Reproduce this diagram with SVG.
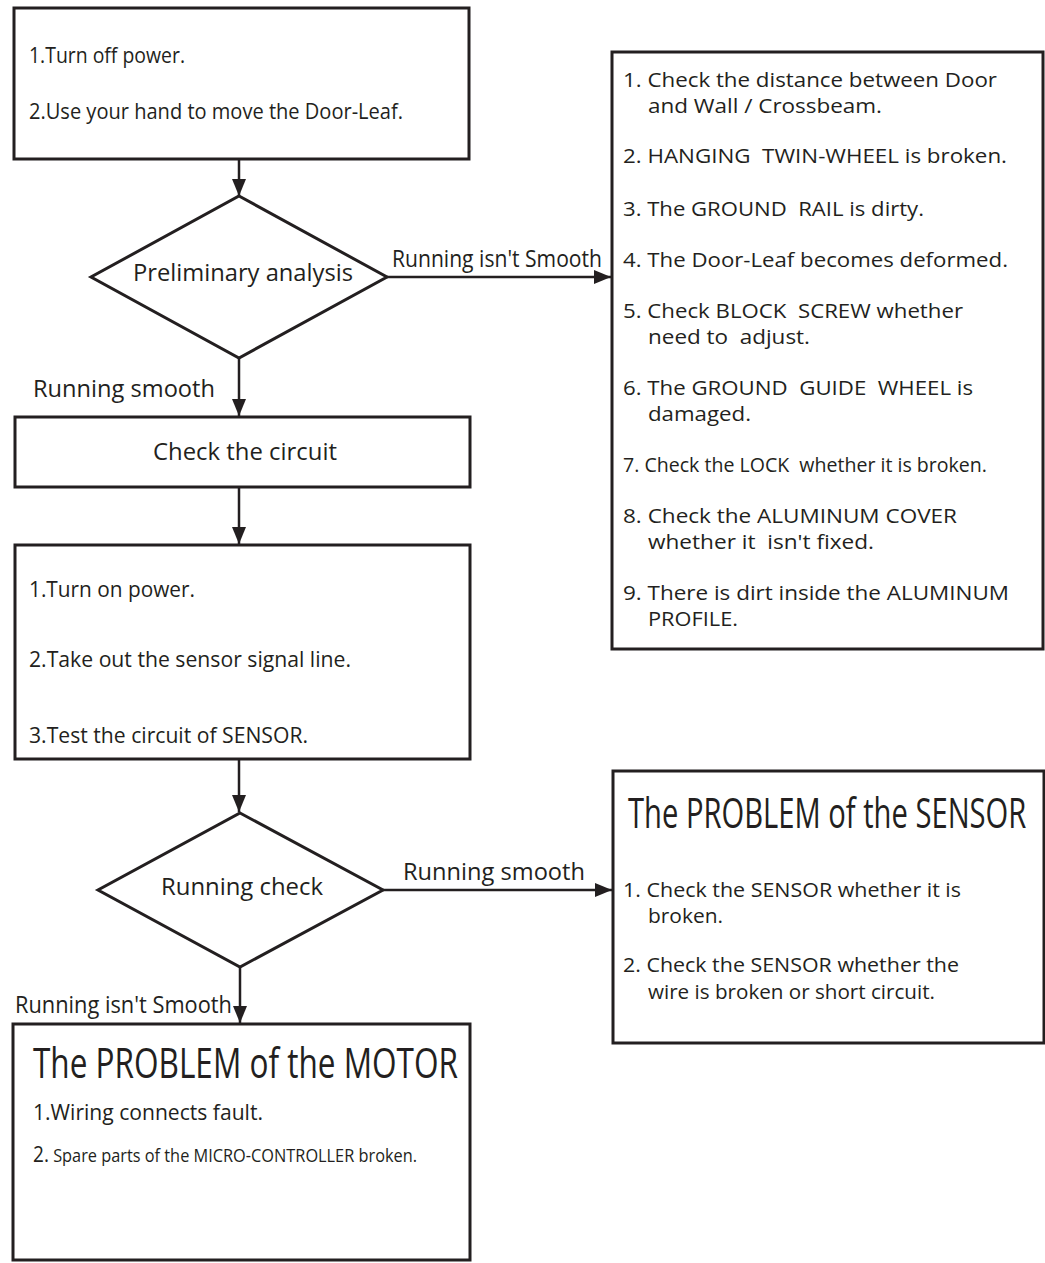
<svg xmlns="http://www.w3.org/2000/svg" width="1045" height="1263" viewBox="0 0 1045 1263">
<style>
  .box { fill: #ffffff; stroke: #231f20; stroke-width: 3; }
  .dia { fill: #ffffff; stroke: #231f20; stroke-width: 3; stroke-linejoin: miter; }
  .con { fill: none; stroke: #231f20; stroke-width: 2.5; marker-end: url(#arr); }
  text { font-family: "Open Sans", "Noto Sans", "Liberation Sans", sans-serif; fill: #231f20; white-space: pre; }
  .t18 { font-size: 21px; }
  .t20 { font-size: 20.5px; }
  .t19 { font-size: 19.5px; }
  .t22 { font-size: 24px; }
  .title { font-size: 42px; }
  .sm { font-size: 18px; }
</style>
<defs>
  <marker id="arr" markerUnits="userSpaceOnUse" markerWidth="18" markerHeight="16" refX="17" refY="7" orient="auto">
    <path d="M0,0 L17,7 L0,14 Z" fill="#231f20"/>
  </marker>
</defs>
<rect width="1045" height="1263" fill="#ffffff"/>

<g id="connectors">
  <line class="con" x1="239" y1="160" x2="239" y2="196"/>
  <line class="con" x1="387" y1="277" x2="611" y2="277"/>
  <line class="con" x1="239" y1="358" x2="239" y2="416"/>
  <line class="con" x1="239" y1="488" x2="239" y2="544"/>
  <line class="con" x1="239" y1="760" x2="239" y2="812"/>
  <line class="con" x1="383" y1="890" x2="612" y2="890"/>
  <line class="con" x1="240" y1="967" x2="240" y2="1023"/>
  <text class="t22" x="392" y="267" textLength="210" lengthAdjust="spacingAndGlyphs">Running isn't Smooth</text>
  <text class="t22" x="33" y="397" textLength="182" lengthAdjust="spacingAndGlyphs">Running smooth</text>
  <text class="t22" x="403" y="880" textLength="182" lengthAdjust="spacingAndGlyphs">Running smooth</text>
  <text class="t22" x="15" y="1013" textLength="217" lengthAdjust="spacingAndGlyphs">Running isn't Smooth</text>
</g>

<g id="step1">
  <rect class="box" x="14" y="8" width="455" height="151"/>
  <text class="t18" x="29" y="63" textLength="156" lengthAdjust="spacingAndGlyphs">1.Turn off power.</text>
  <text class="t18" x="29" y="119" textLength="374" lengthAdjust="spacingAndGlyphs">2.Use your hand to move the Door-Leaf.</text>
</g>

<g id="preliminary">
  <polygon class="dia" points="239,196 387,277 239,358 91,277"/>
  <text class="t22" x="133" y="281" textLength="220" lengthAdjust="spacingAndGlyphs">Preliminary analysis</text>
</g>

<g id="mechanical">
  <rect class="box" x="612" y="52" width="431" height="597"/>
  <text class="t20" x="623" y="87" textLength="374" lengthAdjust="spacingAndGlyphs">1. Check the distance between Door</text>
  <text class="t20" x="648" y="113" textLength="234" lengthAdjust="spacingAndGlyphs">and Wall / Crossbeam.</text>
  <text class="t20" x="623" y="163" textLength="384" lengthAdjust="spacingAndGlyphs">2. HANGING  TWIN-WHEEL is broken.</text>
  <text class="t20" x="623" y="216" textLength="301" lengthAdjust="spacingAndGlyphs">3. The GROUND  RAIL is dirty.</text>
  <text class="t20" x="623" y="267" textLength="385" lengthAdjust="spacingAndGlyphs">4. The Door-Leaf becomes deformed.</text>
  <text class="t20" x="623" y="318" textLength="340" lengthAdjust="spacingAndGlyphs">5. Check BLOCK  SCREW whether</text>
  <text class="t20" x="648" y="344" textLength="162" lengthAdjust="spacingAndGlyphs">need to  adjust.</text>
  <text class="t20" x="623" y="395" textLength="350" lengthAdjust="spacingAndGlyphs">6. The GROUND  GUIDE  WHEEL is</text>
  <text class="t20" x="648" y="421" textLength="103" lengthAdjust="spacingAndGlyphs">damaged.</text>
  <text class="t19" x="623" y="472" textLength="364" lengthAdjust="spacingAndGlyphs">7. Check the LOCK  whether it is broken.</text>
  <text class="t20" x="623" y="523" textLength="334" lengthAdjust="spacingAndGlyphs">8. Check the ALUMINUM COVER</text>
  <text class="t20" x="648" y="549" textLength="226" lengthAdjust="spacingAndGlyphs">whether it  isn't fixed.</text>
  <text class="t20" x="623" y="600" textLength="386" lengthAdjust="spacingAndGlyphs">9. There is dirt inside the ALUMINUM</text>
  <text class="t20" x="648" y="626" textLength="90" lengthAdjust="spacingAndGlyphs">PROFILE.</text>
</g>

<g id="check-circuit">
  <rect class="box" x="15" y="417" width="455" height="70"/>
  <text class="t22" x="153" y="460" textLength="184" lengthAdjust="spacingAndGlyphs">Check the circuit</text>
</g>

<g id="step2">
  <rect class="box" x="15" y="545" width="455" height="214"/>
  <text class="t18" x="29" y="597" textLength="166" lengthAdjust="spacingAndGlyphs">1.Turn on power.</text>
  <text class="t18" x="29" y="667" textLength="322" lengthAdjust="spacingAndGlyphs">2.Take out the sensor signal line.</text>
  <text class="t18" x="29" y="743" textLength="279" lengthAdjust="spacingAndGlyphs">3.Test the circuit of SENSOR.</text>
</g>

<g id="running-check">
  <polygon class="dia" points="240,813 383,890 240,967 98,890"/>
  <text class="t22" x="161" y="895" textLength="162" lengthAdjust="spacingAndGlyphs">Running check</text>
</g>

<g id="sensor-problem">
  <rect class="box" x="613" y="771" width="431" height="272"/>
  <text class="title" transform="translate(628,828) scale(0.7,1)" x="0" y="0" textLength="569" lengthAdjust="spacingAndGlyphs">The PROBLEM of the SENSOR</text>
  <text class="t20" x="623" y="897" textLength="338" lengthAdjust="spacingAndGlyphs">1. Check the SENSOR whether it is</text>
  <text class="t20" x="648" y="923" textLength="75" lengthAdjust="spacingAndGlyphs">broken.</text>
  <text class="t20" x="623" y="972" textLength="336" lengthAdjust="spacingAndGlyphs">2. Check the SENSOR whether the</text>
  <text class="t20" x="648" y="999" textLength="287" lengthAdjust="spacingAndGlyphs">wire is broken or short circuit.</text>
</g>

<g id="motor-problem">
  <rect class="box" x="13" y="1024" width="457" height="236"/>
  <text class="title" transform="translate(33,1078) scale(0.7,1)" x="0" y="0" textLength="607" lengthAdjust="spacingAndGlyphs">The PROBLEM of the MOTOR</text>
  <text class="t18" x="33" y="1120" textLength="230" lengthAdjust="spacingAndGlyphs">1.Wiring connects fault.</text>
  <text x="33" y="1162" textLength="384" lengthAdjust="spacingAndGlyphs"><tspan class="t18">2.</tspan><tspan class="sm"> Spare parts of the MICRO-CONTROLLER broken.</tspan></text>
</g>
</svg>
